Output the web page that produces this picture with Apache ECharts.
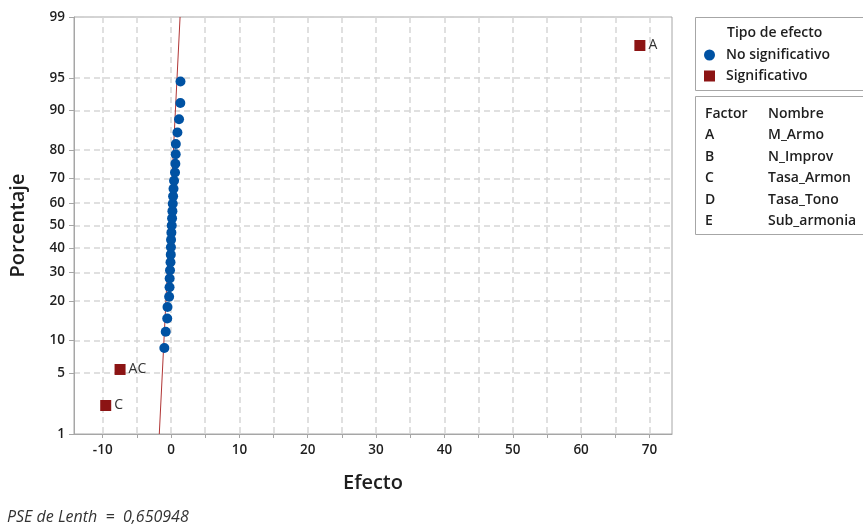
<!DOCTYPE html>
<html><head><meta charset="utf-8">
<script src="https://cdn.jsdelivr.net/npm/echarts@6/dist/echarts.min.js"></script>
<style>html,body{margin:0;padding:0;background:#fff}#c{width:863px;height:527px}</style>
</head><body><div id="c"></div>
<script>
// ---- data ----
const nsEffects = [-0.98,-0.78,-0.56,-0.52,-0.28,-0.22,-0.20,-0.15,-0.08,-0.04,-0.02,0.00,0.05,0.10,0.15,0.20,0.25,0.30,0.36,0.44,0.58,0.63,0.68,0.70,0.93,1.17,1.36,1.38];
const nsPct = [8.60,11.78,14.97,18.15,21.34,24.52,27.71,30.89,34.08,37.26,40.45,43.63,46.82,50.00,53.18,56.37,59.55,62.74,65.92,69.11,72.29,75.48,78.66,81.85,85.03,88.22,91.40,94.59];
const sigEffects = [-9.56,-7.46,68.6];
const sigPct = [2.23,5.41,97.77];
const sigLabels = ['C','AC','A'];
const lineEffects = [-1.72,1.32];
const linePct = [1,99];
const yTicks = [1,5,10,20,30,40,50,60,70,80,90,95,99];
const xLabels = [-10,0,10,20,30,40,50,60,70];
const xGrid = [-10,-5,0,5,10,15,20,25,30,35,40,45,50,55,60,65,70];
const factors = ['A','B','C','D','E'];
const names = ['M_Armo','N_Improv','Tasa_Armon','Tasa_Tono','Sub_armonia'];

function normInv(p){
  const a=[-3.969683028665376e+01,2.209460984245205e+02,-2.759285104469687e+02,1.383577518672690e+02,-3.066479806614716e+01,2.506628277459239e+00];
  const b=[-5.447609879822406e+01,1.615858368580409e+02,-1.556989798598866e+02,6.680131188771972e+01,-1.328068155288572e+01];
  const c=[-7.784894002430293e-03,-3.223964580411365e-01,-2.400758277161838e+00,-2.549732539343734e+00,4.374664141464968e+00,2.938163982698783e+00];
  const d=[7.784695709041462e-03,3.224671290700398e-01,2.445134137142996e+00,3.754408661907416e+00];
  const pl=0.02425, ph=1-pl; let q,r;
  if(p<pl){q=Math.sqrt(-2*Math.log(p));return (((((c[0]*q+c[1])*q+c[2])*q+c[3])*q+c[4])*q+c[5])/((((d[0]*q+d[1])*q+d[2])*q+d[3])*q+1);}
  if(p<=ph){q=p-0.5;r=q*q;return (((((a[0]*r+a[1])*r+a[2])*r+a[3])*r+a[4])*r+a[5])*q/(((((b[0]*r+b[1])*r+b[2])*r+b[3])*r+b[4])*r+1);}
  q=Math.sqrt(-2*Math.log(1-p));return -(((((c[0]*q+c[1])*q+c[2])*q+c[3])*q+c[4])*q+c[5])/((((d[0]*q+d[1])*q+d[2])*q+d[3])*q+1);
}
const z = p => normInv(p/100);
const yTickZ = yTicks.map(z);
function pctLabel(v){
  let best=0,bd=1e9;
  yTickZ.forEach((t,i)=>{const dd=Math.abs(t-v);if(dd<bd){bd=dd;best=i;}});
  return String(yTicks[best]);
}

const FONT = '"Open Sans", "Noto Sans", sans-serif';
const TXT = '#1e1e1e';
const chart = echarts.init(document.getElementById('c'), null, {renderer:'canvas'});
const g2 = [];
g2.push({type:'rect', shape:{x:695.5,y:17.5,width:180,height:73}, style:{fill:'none',stroke:'#a6a6a6',lineWidth:1}});
g2.push({type:'text', x:727, y:26, style:{text:'Tipo de efecto', font:'600 14px '+FONT, fill:TXT}});
g2.push({type:'rect', shape:{x:695.5,y:96.5,width:180,height:138}, style:{fill:'none',stroke:'#a6a6a6',lineWidth:1}});
g2.push({type:'text', x:705, y:107, style:{text:'Factor', font:'600 14px '+FONT, fill:TXT}});
g2.push({type:'text', x:768, y:107, style:{text:'Nombre', font:'600 14px '+FONT, fill:TXT}});
factors.forEach((f,i)=>{
  g2.push({type:'text', x:705, y:128+i*21.6, style:{text:f, font:'600 14px '+FONT, fill:TXT}});
  g2.push({type:'text', x:768, y:128+i*21.6, style:{text:names[i], font:'600 14px '+FONT, fill:TXT}});
});
g2.push({type:'text', x:7, y:509, style:{text:'PSE de Lenth  =  0,650948', font:'italic 16px '+FONT, fill:'#333'}});

chart.setOption({
  animation:false,
  textStyle:{fontFamily:FONT},
  grid:{left:74, right:191, top:17, bottom:93, show:true, borderColor:'#a6a6a6', borderWidth:1},
  xAxis:{
    type:'value', min:-14.2, max:73.3,
    name:'Efecto', nameLocation:'middle', nameGap:39,
    nameTextStyle:{fontSize:20, fontWeight:600, color:TXT, fontFamily:FONT},
    axisLine:{show:true, onZero:false, lineStyle:{color:'#a6a6a6'}},
    axisTick:{show:true, customValues:xGrid, length:4, lineStyle:{color:'#a6a6a6'}},
    axisLabel:{customValues:xLabels, fontSize:13.5, fontWeight:600, color:TXT, margin:9, fontFamily:FONT},
    splitLine:{show:true, lineStyle:{color:'#d6d6d6', type:[6,4], width:1.5}}
  },
  yAxis:{
    type:'value', min:z(1), max:z(99),
    name:'Porcentaje', nameLocation:'middle', nameGap:46,
    nameTextStyle:{fontSize:20, fontWeight:600, color:TXT, fontFamily:FONT},
    axisLine:{show:true, onZero:false, lineStyle:{color:'#a6a6a6'}},
    axisTick:{show:true, customValues:yTickZ, length:5, lineStyle:{color:'#a6a6a6'}},
    axisLabel:{customValues:yTickZ, formatter:pctLabel, fontSize:13.5, fontWeight:600, color:TXT, margin:9, fontFamily:FONT},
    splitLine:{show:true, lineStyle:{color:'#d6d6d6', type:[6,4], width:1.5}}
  },
  legend:{
    orient:'vertical', left:704, top:48, padding:0, itemGap:7, itemWidth:11, itemHeight:11,
    textStyle:{fontSize:14, fontWeight:600, color:TXT, fontFamily:FONT, padding:[0,0,0,6]},
    data:[{name:'No significativo', icon:'circle'},{name:'Significativo', icon:'rect'}]
  },
  graphic:g2,
  series:[
    {type:'line', name:'fit', data:lineEffects.map((e,i)=>[e,z(linePct[i])]), symbol:'none',
     lineStyle:{color:'#b03535', width:1}, silent:true, z:1},
    {type:'scatter', name:'No significativo', data:nsEffects.map((e,i)=>[e,z(nsPct[i])]),
     symbol:'circle', symbolSize:10, itemStyle:{color:'#0052a3', opacity:1}, z:3},
    {type:'scatter', name:'Significativo', data:sigEffects.map((e,i)=>({value:[e,z(sigPct[i])], name:sigLabels[i]})),
     symbol:'rect', symbolSize:11, itemStyle:{color:'#8c1414', opacity:1}, z:3,
     label:{show:true, position:'right', distance:3, formatter:p=>p.name, fontSize:14, color:'#333', fontFamily:FONT}}
  ]
});
</script></body></html>
